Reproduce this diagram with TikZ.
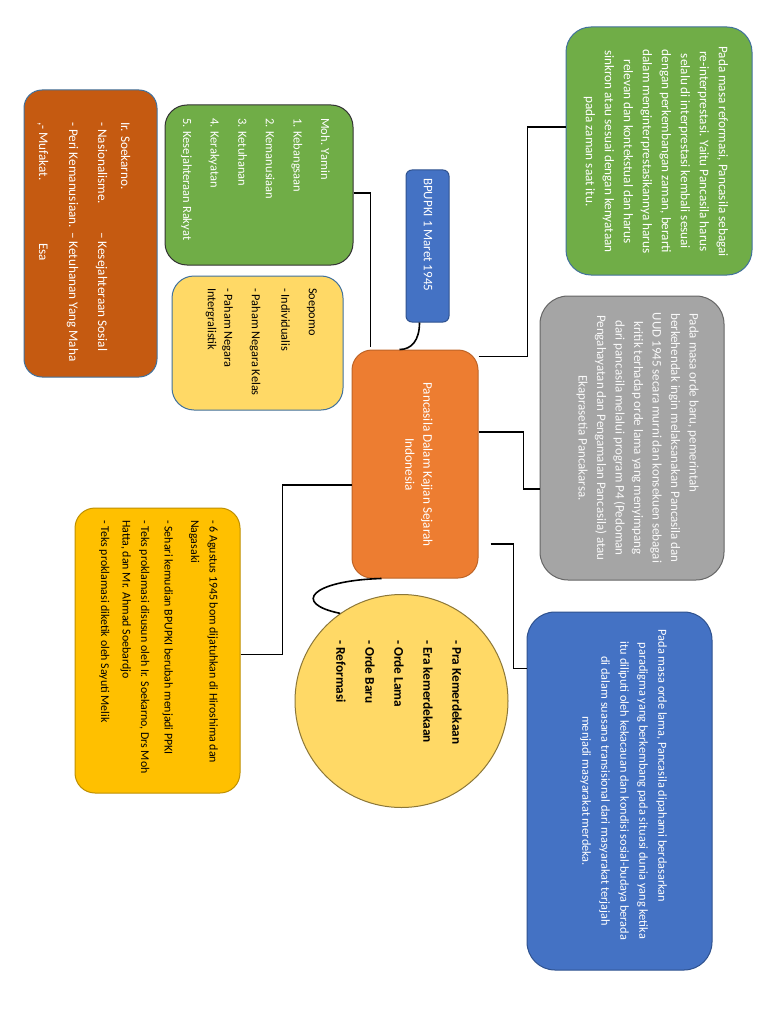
\documentclass[tikz,border=0pt]{standalone}
\usepackage{fontspec}
\setmainfont{Carlito}
\usepackage{xcolor}
\definecolor{daungreen}{HTML}{70AD47}
\definecolor{batugray}{HTML}{A5A5A5}
\definecolor{lautblue}{HTML}{4472C4}
\definecolor{jerukorange}{HTML}{ED7D31}
\definecolor{padiyellow}{HTML}{FFD966}
\definecolor{batabrown}{HTML}{C55A11}
\definecolor{emasgold}{HTML}{FFC000}
\definecolor{slateline}{HTML}{41719C}
\definecolor{navyline}{HTML}{2F528F}

\tikzset{
  box/.style={draw=#1, line width=1pt, rounded corners=22pt, inner sep=0pt},
  link/.style={draw=black, line width=1.6pt},
  vtext/.style={rotate=-90, inner sep=0pt, align=left, anchor=north west},
  ctext/.style={rotate=-90, inner sep=0pt, align=center}
}

\begin{document}
\begin{tikzpicture}[x=1pt, y=-1pt]
  \fill[white] (0,0) rectangle (768,1024);
  \useasboundingbox (0,0) rectangle (768,1024);

  % Boxes
  \node[box=slateline, fill=daungreen, minimum width=186pt, minimum height=248pt, rounded corners=25pt] (reform) at (659,151) {};
  \node[box=gray!80!black, fill=batugray, minimum width=184pt, minimum height=284pt, rounded corners=28pt] (baru) at (632,438) {};
  \node[box=navyline, fill=lautblue, minimum width=185pt, minimum height=358pt, rounded corners=28pt] (lama) at (619.5,791) {};
  \node[box=jerukorange!80!black, fill=jerukorange, minimum width=126pt, minimum height=228pt, rounded corners=20pt] (pusat) at (415,464) {};
  \node[box=navyline, fill=lautblue, minimum width=43pt, minimum height=152pt, rounded corners=6pt] (bpupki) at (427.5,246) {};
  \node[box=black!80, fill=daungreen, minimum width=188pt, minimum height=160pt] (yamin) at (259,185) {};
  \node[box=slateline, fill=padiyellow, minimum width=171pt, minimum height=134pt] (soepomo) at (257.5,343) {};
  \node[box=slateline, fill=batabrown, minimum width=133pt, minimum height=287pt, rounded corners=18pt] (soekarno) at (90.5,233.5) {};
  \node[box=emasgold!75!black, fill=emasgold, minimum width=165pt, minimum height=285pt, rounded corners=20pt] (agustus) at (157.5,650.5) {};
  \node[draw=black!45!padiyellow, line width=1pt, fill=padiyellow, circle, minimum size=213pt, inner sep=0pt] (era) at (401.5,701) {};

  % Connectors
  \draw[link] ([yshift=-7pt]pusat.north east) -| ([xshift=-38pt,yshift=24pt]reform.west) -- ([yshift=24pt]reform.west);
  \draw[link] ([yshift=32pt]pusat.east) -| ([xshift=-16pt,yshift=-51pt]baru.west) -- ([yshift=-51pt]baru.west);
  \draw[link] ([xshift=12pt,yshift=-80pt]pusat.east) -| ([xshift=-13pt,yshift=122.5pt]lama.west) -- ([yshift=122.5pt]lama.west);
  \draw[link] ([yshift=-8pt]yamin.east) -| ([xshift=19pt,yshift=3pt]pusat.north west);
  \draw[link] ([xshift=-8pt]bpupki.south) .. controls +(0,18) and +(12,0) .. ([xshift=48pt]pusat.north west);
  \draw[link] ([xshift=30pt]pusat.south west) .. controls +(-70,2) and +(-49,-10) .. (era.125);
  \draw[link] ([yshift=-4pt]agustus.east) -| ([xshift=-69pt,yshift=-21pt]pusat.west) -- ([yshift=-21pt]pusat.west);

  % Texts
  \node[ctext, text=white, font=\fontsize{13.2}{19}\selectfont] (reformtxt) at (656,151.5)
    {Pada masa reformasi, Pancasila sebagai\\re-interprestasi. Yaitu Pancasila harus\\selalu di interprestasi kembali sesuai\\dengan perkembangan zaman, berarti\\dalam menginterprestasikannya harus\\relevan dan kontekstual dan harus\\sinkron atau sesuai dengan kenyataan\\pada zaman saat itu.};
  \node[ctext, text=white!95!gray, font=\fontsize{13}{18.5}\selectfont] (barutxt) at (637.5,438)
    {Pada masa orde baru, pemerintah\hspace*{70pt}\\berkehendak ingin melaksanakan Pancasila dan\\UUD 1945 secara murni dan konsekuen sebagai\\kritik terhadap orde lama yang menyimpang\\dari pancasila melalui program P4 (Pedoman\\Pengahayatan dan Pengamalan Pancasila) atau\\Ekaprasetia Pancakarsa.};
  \node[ctext, text=white, font=\fontsize{12.3}{19}\selectfont] (lamatxt) at (623.5,791)
    {Pada masa orde lama, Pancasila dipahami berdasarkan\hspace*{50pt}\\paradigma yang berkembang pada situasi dunia yang ketika\\itu diliputi oleh kekacauan dan kondisi sosial-budaya berada\\di dalam suasana transisional dari masyarakat terjajah\\menjadi masyarakat merdeka.};
  \node[ctext, text=white, font=\fontsize{13.2}{18}\selectfont] (pusattxt) at (419,464.5)
    {Pancasila Dalam Kajian Sejarah\\Indonesia};
  \node[vtext, text=white, font=\fontsize{13}{15}\selectfont] (bpupkitxt) at (432.5,178) {BPUPKI 1 Maret 1945};
  \node[vtext, text=white, font=\fontsize{12.5}{27.6}\selectfont] (yamintxt) at (330,118)
    {Moh. Yamin\\1. Kebangsaan\\2. Kemanusiaan\\3. Ketuhanan\\4. Kerakyatan\\5. Kesejahteraan Rakyat};
  \node[vtext, font=\fontsize{12.3}{16.5}\selectfont] (soepomotxt) at (317,288)
    {Soepomo\\[11pt]- Individualis\\[13pt]- Paham Negara Kelas\\[11pt]- Paham Negara\\Intergralistik};
  \node[vtext, text=white, font=\fontsize{13.2}{23}\selectfont] (soekarnotxt) at (130.5,122)
    {Ir. Soekarno.\\\makebox[110pt][l]{- Nasionalisme.}– Kesejahteraan Sosial\\[6pt]\makebox[110pt][l]{- Peri Kemanusiaan.}– Ketuhanan Yang Maha\\[7pt]\makebox[121pt][l]{,- Mufakat.}Esa};
  \node[vtext, font=\fontsize{11.9}{18.5}\selectfont] (agustustxt) at (218,520)
    {- 6 Agustus 1945 bom dijatuhkan di Hiroshima dan\\Nagasaki\\[8pt]- Sehari kemudian BPUPKI berubah menjadi PPKI\\[5pt]- Teks proklamasi disusun oleh Ir. Soekarno, Drs Moh\\Hatta, dan Mr. Ahmad Soebardjo\\[3pt]- Teks proklamasi diketik oleh Sayuti Melik};
  \node[vtext, font=\bfseries\fontsize{13.3}{29}\selectfont] (eratxt) at (462,640)
    {- Pra Kemerdekaan\\- Era kemerdekaan\\- Orde Lama\\- Orde Baru\\- Reformasi};
\end{tikzpicture}
\end{document}
